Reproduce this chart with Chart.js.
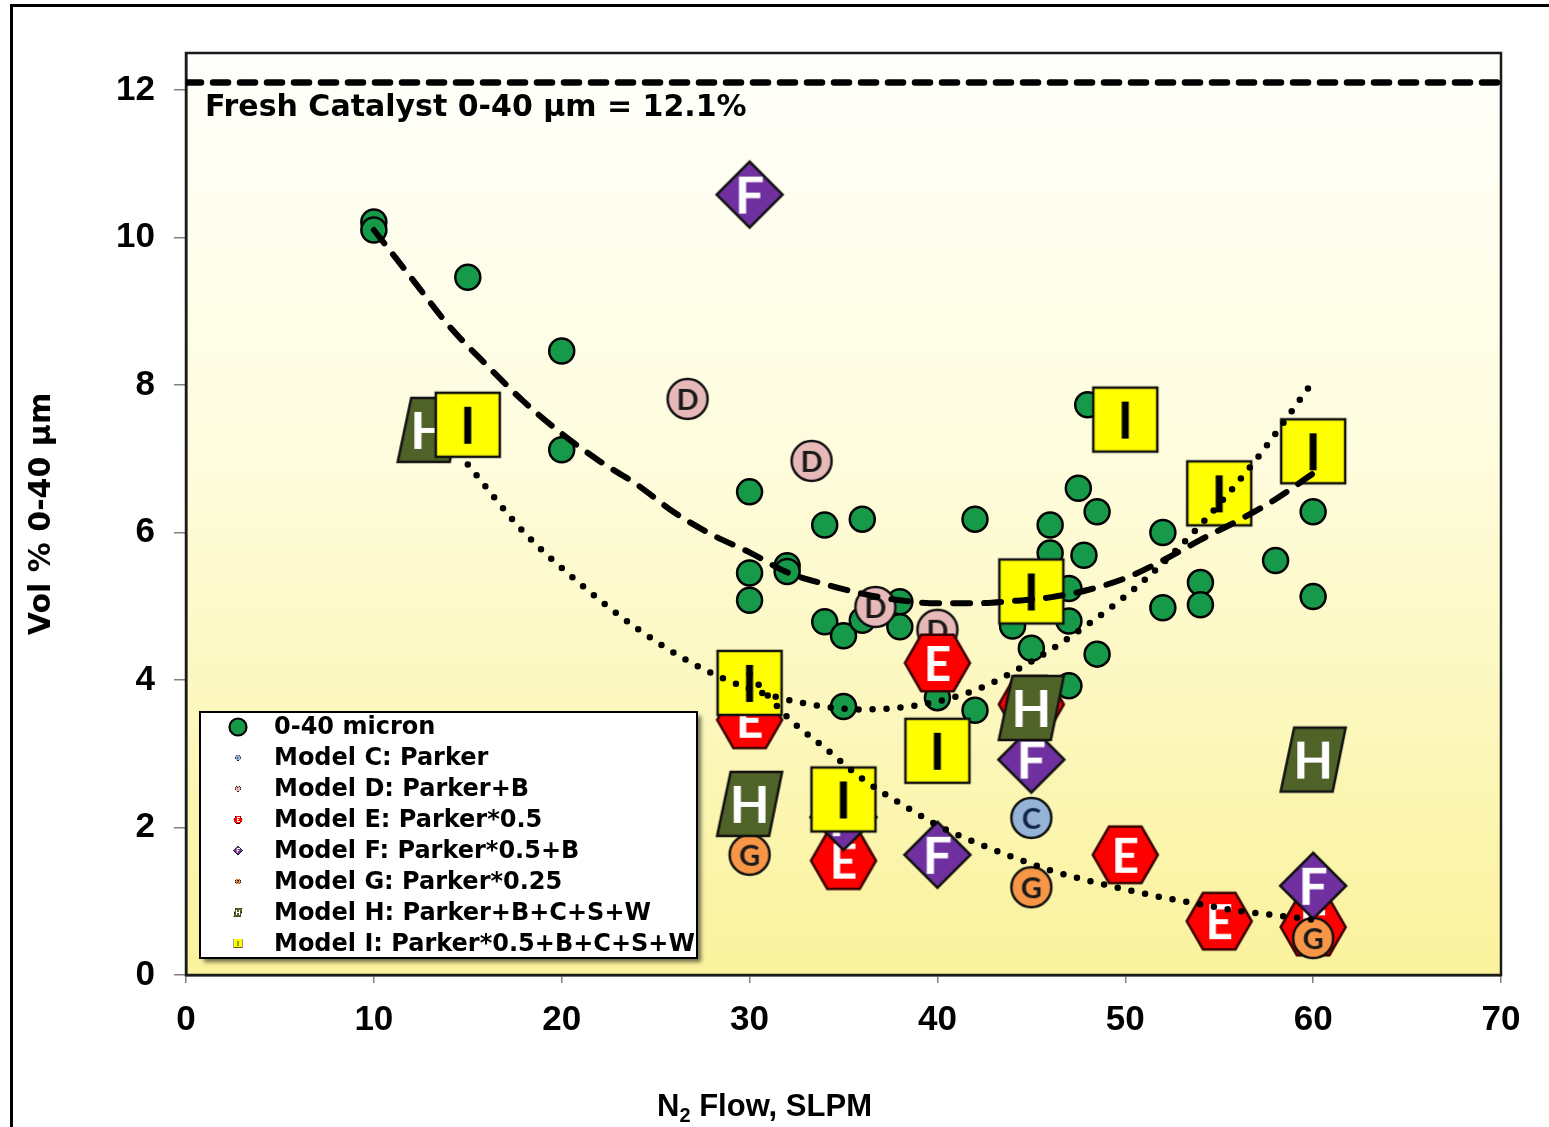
<!DOCTYPE html>
<html>
<head>
<meta charset="utf-8">
<script src="https://cdn.jsdelivr.net/npm/chart.js@4.4.1/dist/chart.umd.min.js"></script>
<style>
  html, body { margin: 0; padding: 0; background: #fff; }
  #wrap { width: 1549px; height: 1127px; position: relative; }
</style>
</head>
<body>
<div id="wrap"><canvas id="chart"></canvas></div>
<script>
// Axis ticks
const flowTicks = [0, 10, 20, 30, 40, 50, 60, 70];
const volTicks = [0, 2, 4, 6, 8, 10, 12];
const freshCatalyst = 12.1;

// Measured 0-40 micron fines (vol %) against N2 flow (SLPM)
const micronX = [10, 10, 15, 20, 20, 30, 30, 30, 32, 32, 34, 36, 34, 35, 36, 38, 38, 35, 40, 42, 42, 44, 45, 46, 46, 47, 47, 47, 47.5, 48.5, 48, 47.8, 48.5, 52, 52, 54, 54, 58, 60, 60];
const micronY = [10.21, 10.1, 9.46, 8.46, 7.12, 6.55, 5.45, 5.08, 5.55, 5.47, 6.1, 6.18, 4.79, 4.6, 4.81, 5.06, 4.72, 3.64, 3.76, 3.59, 6.18, 4.73, 4.43, 6.1, 5.72, 5.24, 4.8, 3.92, 6.6, 6.28, 7.73, 5.69, 4.35, 6.0, 4.98, 5.32, 5.02, 5.62, 6.28, 5.13];

// Model predictions
const modelCX = [45];
const modelCY = [2.13];
const modelDX = [26.7, 33.3, 36.7, 40];
const modelDY = [7.81, 6.97, 4.99, 4.68];
const modelEX = [30, 35, 40, 45, 50, 55, 60];
const modelEY = [3.46, 1.55, 4.23, 3.67, 1.63, 0.73, 0.65];
const modelFX = [30, 35, 40, 45, 60];
const modelFY = [10.58, 2.14, 1.63, 2.92, 1.21];
const modelGX = [30, 45, 60];
const modelGY = [1.63, 1.19, 0.5];
const modelHX = [13, 30, 45, 60];
const modelHY = [7.39, 2.32, 3.62, 2.92];
const modelIX = [15, 30, 35, 40, 45, 50, 55, 60];
const modelIY = [7.46, 3.96, 2.38, 3.04, 5.2, 7.53, 6.53, 7.1];

// Trend curves
const trendMicronX = [10, 12, 14, 16, 18, 20, 22, 24, 26, 28, 30, 32, 34, 36, 38, 40, 42, 44, 46, 48, 50, 52, 54, 56, 58, 60];
const trendMicronY = [10.1, 9.45, 8.8, 8.27, 7.77, 7.34, 6.97, 6.65, 6.27, 5.97, 5.73, 5.46, 5.3, 5.17, 5.08, 5.04, 5.04, 5.07, 5.12, 5.22, 5.38, 5.62, 5.9, 6.16, 6.45, 6.8];
const trendUX = [15, 18, 21, 24, 27, 30, 33, 36, 39, 42, 45, 48, 51, 54, 57, 60];
const trendUY = [6.92, 6.0, 5.3, 4.7, 4.22, 3.88, 3.68, 3.6, 3.66, 3.86, 4.25, 4.75, 5.35, 6.1, 7.0, 8.05];
const trendDecayX = [30, 32, 34, 36, 38, 40, 42, 44, 46, 48, 50, 52, 54, 56, 58, 60];
const trendDecayY = [4.08, 3.5, 3.08, 2.66, 2.33, 2.03, 1.8, 1.6, 1.42, 1.28, 1.16, 1.05, 0.96, 0.87, 0.81, 0.75];

const seriesNames = ['0-40 micron', 'Model C: Parker', 'Model D: Parker+B', 'Model E: Parker*0.5',
  'Model F: Parker*0.5+B', 'Model G: Parker*0.25', 'Model H: Parker+B+C+S+W', 'Model I: Parker*0.5+B+C+S+W'];

const TEXT_FONT = "'DejaVu Sans', sans-serif";
const TICK_FONT = "'Liberation Sans', Arial, sans-serif";
const MARK_FONT = "Lato, 'Open Sans', sans-serif";

function pts(xs, ys) { return xs.map((x, i) => ({ x: x, y: ys[i] })); }

// Lettered marker glyphs used as point styles
function makeMarker(shape, fill, letter, letterColor, fontPx, edge) {
  const S = 74;
  const c = document.createElement('canvas');
  c.width = S; c.height = S;
  const g = c.getContext('2d');
  g.translate(S / 2, S / 2);
  g.beginPath();
  if (shape === 'circle') {
    g.arc(0, 0, 20, 0, Math.PI * 2);
  } else if (shape === 'hex') {
    for (let k = 0; k < 6; k++) {
      const a = k * Math.PI / 3;
      const px = 32.5 * Math.cos(a), py = 32.5 * Math.sin(a);
      if (k === 0) g.moveTo(px, py); else g.lineTo(px, py);
    }
    g.closePath();
  } else if (shape === 'diamond') {
    g.moveTo(0, -33); g.lineTo(33, 0); g.lineTo(0, 33); g.lineTo(-33, 0); g.closePath();
  } else if (shape === 'para') {
    g.moveTo(-19, -32); g.lineTo(32.5, -32); g.lineTo(19.5, 32); g.lineTo(-32.5, 32); g.closePath();
  } else {
    g.rect(-32, -32, 64, 64);
  }
  g.fillStyle = fill;
  g.fill();
  g.lineWidth = 2.5;
  g.lineJoin = 'miter';
  g.strokeStyle = edge || '#111';
  g.stroke();
  g.font = 'bold ' + fontPx + 'px ' + MARK_FONT;
  g.textAlign = 'center';
  g.textBaseline = 'alphabetic';
  const m = g.measureText(letter);
  const yOff = (m.actualBoundingBoxAscent - m.actualBoundingBoxDescent) / 2;
  g.fillStyle = letterColor;
  g.fillText(letter, 0, yOff);
  return c;
}

const markC = makeMarker('circle', '#95b3d7', 'C', '#14284b', 29);
const markD = makeMarker('circle', '#e6b8b7', 'D', '#1a1a1a', 29);
const markE = makeMarker('hex', '#ff0000', 'E', '#ffffff', 48, '#3a0000');
const markF = makeMarker('diamond', '#7030a0', 'F', '#ffffff', 52);
const markG = makeMarker('circle', '#f79646', 'G', '#1a1a1a', 29);
const markH = makeMarker('para', '#4f6228', 'H', '#ffffff', 52);
const markI = makeMarker('square', '#ffff00', 'I', '#000000', 52);

const GREEN = '#17994a';

function modelSet(name, xs, ys, mark, order) {
  return {
    label: name, data: pts(xs, ys), pointStyle: mark, radius: 30, hoverRadius: 30,
    showLine: false, order: order, clip: false
  };
}

const dotted = { showLine: true, pointRadius: 0, borderColor: '#000', borderWidth: 6.5, borderDash: [0, 14],
  borderCapStyle: 'round', borderJoinStyle: 'round', cubicInterpolationMode: 'monotone', order: 0 };

const datasets = [
  { label: 'trend-fresh', data: [{ x: flowTicks[0], y: freshCatalyst }, { x: flowTicks[flowTicks.length - 1], y: freshCatalyst }],
    showLine: true, pointRadius: 0, borderColor: '#000', borderWidth: 6.5, borderDash: [15, 12], borderCapStyle: 'round', order: 0 },
  { label: 'trend-micron', data: pts(trendMicronX, trendMicronY), showLine: true, pointRadius: 0,
    borderColor: '#000', borderWidth: 6, borderDash: [17, 14], borderCapStyle: 'round', borderJoinStyle: 'round',
    cubicInterpolationMode: 'monotone', order: 0 },
  Object.assign({ label: 'trend-u', data: pts(trendUX, trendUY) }, dotted),
  Object.assign({ label: 'trend-decay', data: pts(trendDecayX, trendDecayY) }, dotted),
  modelSet(seriesNames[7], modelIX, modelIY, markI, 1),
  modelSet(seriesNames[6], modelHX, modelHY, markH, 2),
  modelSet(seriesNames[5], modelGX, modelGY, markG, 3),
  modelSet(seriesNames[4], modelFX, modelFY, markF, 4),
  modelSet(seriesNames[3], modelEX, modelEY, markE, 5),
  modelSet(seriesNames[2], modelDX, modelDY, markD, 6),
  modelSet(seriesNames[1], modelCX, modelCY, markC, 7),
  { label: seriesNames[0], data: pts(micronX, micronY), pointStyle: 'circle', radius: 12.5, hoverRadius: 12.5,
    backgroundColor: GREEN, borderColor: '#000', borderWidth: 2.5, showLine: false, order: 8 }
];

const legendMarks = [null, markC, markD, markE, markF, markG, markH, markI];

const decorations = {
  id: 'decorations',
  beforeDraw(chart) {
    const { ctx, chartArea: a } = chart;
    ctx.save();
    ctx.fillStyle = '#fff';
    ctx.fillRect(0, 0, chart.width, chart.height);
    ctx.strokeStyle = '#000';
    ctx.lineWidth = 3;
    ctx.strokeRect(11.5, 5.5, chart.width + 20, chart.height + 20);
    const grad = ctx.createLinearGradient(0, a.top, 0, a.bottom);
    grad.addColorStop(0, '#fffffb');
    grad.addColorStop(0.45, '#fefcdc');
    grad.addColorStop(1, '#faf29c');
    ctx.fillStyle = grad;
    ctx.fillRect(a.left, a.top, a.right - a.left, a.bottom - a.top);
    ctx.restore();
  },
  beforeDatasetsDraw(chart) {
    const { ctx, chartArea: a } = chart;
    ctx.save();
    ctx.strokeStyle = '#1a1a1a';
    ctx.lineWidth = 2.5;
    ctx.strokeRect(a.left, a.top, a.right - a.left, a.bottom - a.top);
    ctx.restore();
  },
  afterDatasetsDraw(chart) {
    const { ctx, chartArea: a } = chart;
    ctx.save();
    // annotation under the fresh-catalyst line
    ctx.fillStyle = '#000';
    ctx.font = 'bold 30px ' + TEXT_FONT;
    ctx.textAlign = 'left';
    ctx.textBaseline = 'middle';
    const yFresh = chart.scales.y.getPixelForValue(freshCatalyst);
    ctx.fillText('Fresh Catalyst 0-40 \u03bcm = ' + freshCatalyst + '%', a.left + 19, yFresh + 26);

    // legend box
    const bx = a.left + 14, bw = 497, bh = 246, by = a.bottom - 17 - bh;
    ctx.save();
    ctx.shadowColor = 'rgba(0,0,0,0.55)';
    ctx.shadowOffsetX = 4;
    ctx.shadowOffsetY = 4;
    ctx.shadowBlur = 4;
    ctx.fillStyle = '#fff';
    ctx.fillRect(bx, by, bw, bh);
    ctx.restore();
    ctx.strokeStyle = '#000';
    ctx.lineWidth = 2;
    ctx.strokeRect(bx, by, bw, bh);
    ctx.font = 'bold 24px ' + TEXT_FONT;
    ctx.textBaseline = 'middle';
    seriesNames.forEach((name, i) => {
      const ry = by + 15 + i * 30.9;
      const mx = bx + 38;
      if (i === 0) {
        ctx.beginPath();
        ctx.arc(mx, ry, 8.5, 0, Math.PI * 2);
        ctx.fillStyle = GREEN;
        ctx.fill();
        ctx.lineWidth = 2.2;
        ctx.strokeStyle = '#000';
        ctx.stroke();
      } else {
        ctx.drawImage(legendMarks[i], mx - 5, ry - 5, 10, 10);
      }
      ctx.fillStyle = '#000';
      ctx.fillText(name, bx + 74, ry + 1);
    });

    // x-axis title with subscript
    const tx = chart.width / 2 - 10, ty = 1105;
    const big = 'bold 31px ' + TICK_FONT, small = 'bold 20px ' + TICK_FONT;
    ctx.font = big; const wN = ctx.measureText('N').width;
    const rest = ' Flow, SLPM'; const wR = ctx.measureText(rest).width;
    ctx.font = small; const w2 = ctx.measureText('2').width;
    let x0 = tx - (wN + w2 + wR) / 2;
    ctx.textAlign = 'left';
    ctx.textBaseline = 'alphabetic';
    ctx.fillStyle = '#000';
    ctx.font = big; ctx.fillText('N', x0, ty + 11);
    ctx.font = small; ctx.fillText('2', x0 + wN, ty + 17);
    ctx.font = big; ctx.fillText(rest, x0 + wN + w2, ty + 11);
    ctx.restore();
  }
};

new Chart(document.getElementById('chart'), {
  type: 'scatter',
  data: { datasets: datasets },
  options: {
    responsive: true,
    maintainAspectRatio: false,
    animation: false,
    events: [],
    layout: { padding: { left: 24, top: 53, right: 48, bottom: 5 } },
    plugins: { legend: { display: false }, tooltip: { enabled: false } },
    scales: {
      x: {
        type: 'linear', min: flowTicks[0], max: flowTicks[flowTicks.length - 1],
        afterBuildTicks: s => { s.ticks = flowTicks.map(v => ({ value: v })); },
        afterFit: s => { s.height = 147; },
        ticks: { font: { family: TICK_FONT, size: 35, weight: 'bold' }, color: '#000', padding: 16, maxRotation: 0 },
        grid: { drawOnChartArea: false, tickLength: 8, color: '#808080', lineWidth: 1.5 },
        border: { color: '#1a1a1a', width: 2.5 },
        title: { display: false }
      },
      y: {
        type: 'linear', min: 0, max: 12.5,
        afterBuildTicks: s => { s.ticks = volTicks.map(v => ({ value: v })); },
        afterFit: s => { s.width = 162; },
        ticks: { font: { family: TICK_FONT, size: 35, weight: 'bold' }, color: '#000', padding: 19 },
        grid: { drawOnChartArea: false, tickLength: 12, color: '#808080', lineWidth: 1.5 },
        border: { color: '#1a1a1a', width: 2.5 },
        title: { display: true, text: 'Vol % 0-40 \u03bcm', color: '#000', padding: 0,
          font: { family: TEXT_FONT, size: 30, weight: 'bold' } }
      }
    }
  },
  plugins: [decorations]
});
</script>
</body>
</html>
